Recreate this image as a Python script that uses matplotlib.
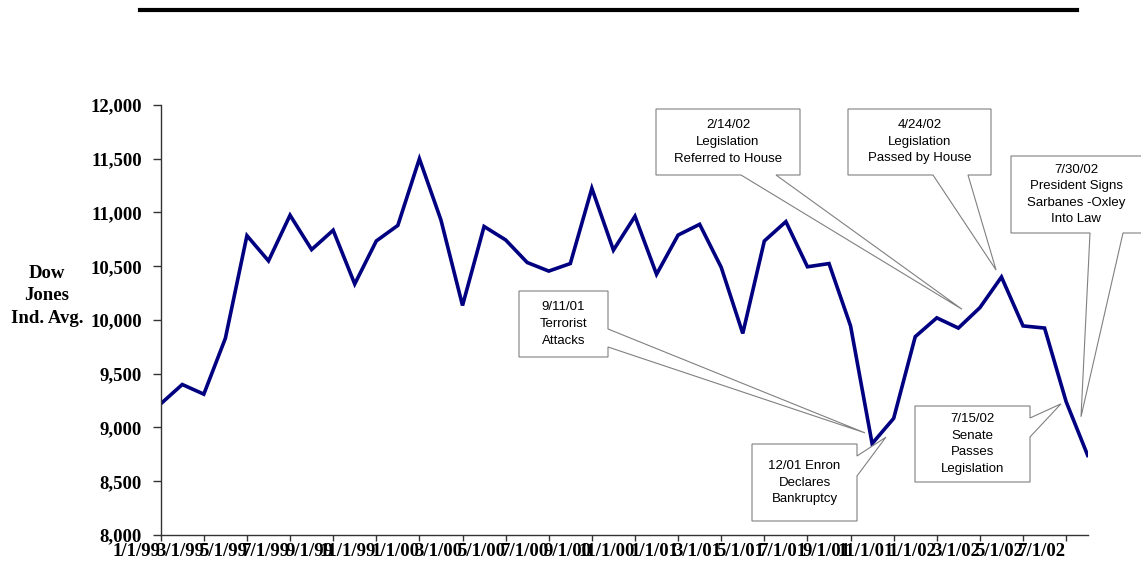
import matplotlib
matplotlib.use("Agg")
import matplotlib.pyplot as plt
from matplotlib.patches import Polygon
from matplotlib.lines import Line2D
from matplotlib.ticker import FuncFormatter
import matplotlib.transforms as mtransforms

# Podaci: mjesecni Dow Jones (ocitano sa slike)
dow = [9220, 9400, 9310, 9830, 10785, 10550, 10975, 10655, 10835, 10335,
       10735, 10880, 11500, 10930, 10135, 10870, 10745, 10535, 10455, 10525,
       11225, 10650, 10965, 10425, 10790, 10890, 10490, 9875, 10735, 10915,
       10495, 10525, 9945, 8850, 9085, 9845, 10020, 9925, 10115, 10400,
       9945, 9925, 9240, 8740]
months = list(range(len(dow)))

tick_labels = ["1/1/99", "3/1/99", "5/1/99", "7/1/99", "9/1/99", "11/1/99",
               "1/1/00", "3/1/00", "5/1/00", "7/1/00", "9/1/00", "11/1/00",
               "1/1/01", "3/1/01", "5/1/01", "7/1/01", "9/1/01", "11/1/01",
               "1/1/02", "3/1/02", "5/1/02", "7/1/02"]
tick_pos = list(range(0, 2 * len(tick_labels), 2))

# (tekst, box u pikselima slike x0,y0,x1,y1, strana, baza klina, vrh u podacima)
events = [
    ("9/11/01\nTerrorist\nAttacks", (519, 291, 608, 357), "right", (329, 347), (32.67, 8950)),
    ("12/01 Enron\nDeclares\nBankruptcy", (752, 444, 857, 521), "right", (456, 476), (33.64, 8910)),
    ("2/14/02\nLegislation\nReferred to House", (656, 109, 800, 175), "bottom", (741, 776), (37.17, 10100)),
    ("4/24/02\nLegislation\nPassed by House", (848, 109, 991, 175), "bottom", (933, 968), (38.75, 10465)),
    ("7/30/02\nPresident Signs\nSarbanes -Oxley\nInto Law", (1011, 156, 1143, 233), "bottom", (1090, 1123), (42.69, 9100)),
    ("7/15/02\nSenate\nPasses\nLegislation", (915, 406, 1030, 482), "right", (418, 437), (41.76, 9220)),
]

W, H = 1141, 585
fig = plt.figure(figsize=(W / 100, H / 100), dpi=100)
ax = fig.add_axes([160.7 / W, 1 - 535 / H, 927 / W, 430 / H])

ax.plot(months, dow, color="#000080", linewidth=2.6, solid_joinstyle="miter")
ax.set_xlim(0, len(dow) - 1)
ax.set_ylim(8000, 12000)
ax.set_yticks(range(8000, 12001, 500))
ax.yaxis.set_major_formatter(FuncFormatter(lambda v, p: f"{int(v):,}"))
ax.set_xticks(tick_pos)
ax.set_xticklabels(tick_labels)

serif = ["Liberation Serif", "DejaVu Serif"]
for lab in ax.get_yticklabels():
    lab.set_fontfamily(serif)
    lab.set_fontweight("bold")
    lab.set_fontsize(13.5)

# x labele: desno poravnate lijevo od crtice, 11/1 spustene nize
for lab, txt in zip(ax.get_xticklabels(), tick_labels):
    lab.set_fontfamily(serif)
    lab.set_fontweight("bold")
    lab.set_fontsize(13.5)
    lab.set_horizontalalignment("right")
    dy = -6 if txt.startswith("11/") else 0
    lab.set_transform(lab.get_transform() +
                      mtransforms.ScaledTranslation(-10 / 100, dy / 100, fig.dpi_scale_trans))

ax.tick_params(axis="x", direction="out", length=4.3, width=1, color="#333333", pad=1.5)
ax.tick_params(axis="y", direction="out", length=5.5, width=1, color="#333333", pad=8)
for s in ["top", "right"]:
    ax.spines[s].set_visible(False)
for s in ["left", "bottom"]:
    ax.spines[s].set_color("#333333")
    ax.spines[s].set_linewidth(1)

fig.text(47 / W, 1 - 296 / H, "Dow\nJones\nInd. Avg.", ha="center", va="center",
         fontfamily=serif, fontweight="bold", fontsize=13.5, linespacing=1.4)

# gornja crna linija
fig.add_artist(Line2D([140 / W, 1077 / W], [1 - 10 / H, 1 - 10 / H],
                      color="black", linewidth=3, transform=fig.transFigure))


def to_fig(px, py):
    return (px / W, 1 - py / H)


fig.canvas.draw()
for text, (x0, y0, x1, y1), side, (b0, b1), tip in events:
    tx, ty = ax.transData.transform(tip)
    tip_px = (tx, H - ty)
    if side == "right":
        pts = [(x0, y0), (x1, y0), (x1, b0), tip_px, (x1, b1), (x1, y1), (x0, y1)]
    else:
        pts = [(x0, y0), (x1, y0), (x1, y1), (b1, y1), tip_px, (b0, y1), (x0, y1)]
    poly = Polygon([to_fig(*p) for p in pts], closed=True, facecolor="white",
                   edgecolor="#808080", linewidth=0.8, transform=fig.transFigure)
    fig.add_artist(poly)
    cx = (x0 + min(x1, W)) / 2
    fig.text(cx / W, 1 - (y0 + y1) / 2 / H, text, ha="center", va="center",
             fontfamily=["Liberation Sans", "DejaVu Sans"], fontsize=9.5,
             linespacing=1.5, zorder=5)

fig.savefig("out.png", dpi=100)
